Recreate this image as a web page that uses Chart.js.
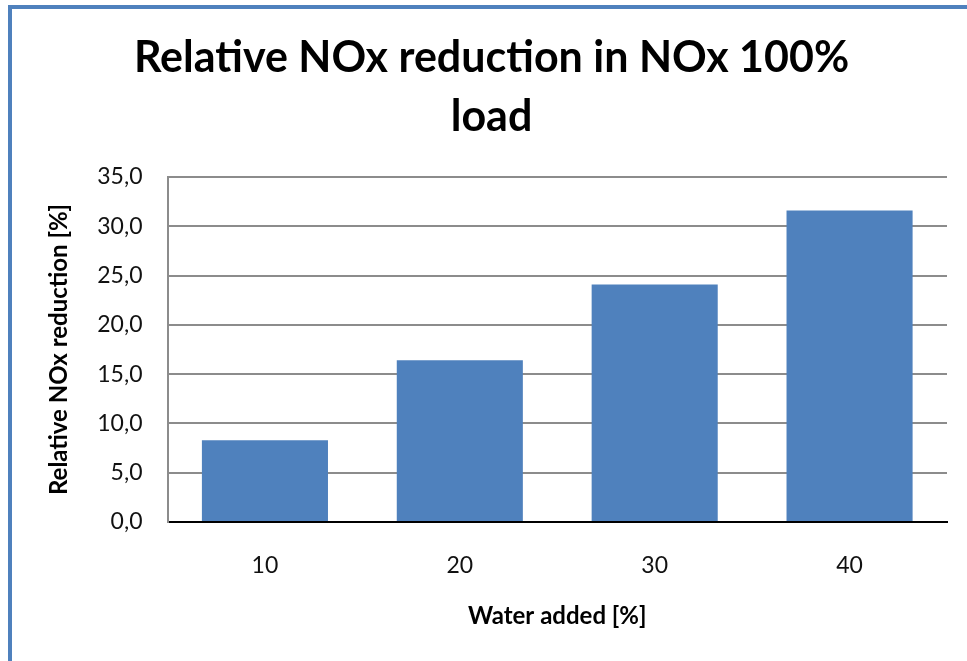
<!DOCTYPE html>
<html>
<head>
<meta charset="utf-8">
<script src="https://cdn.jsdelivr.net/npm/chart.js@4"></script>
<style>
  html, body { margin: 0; padding: 0; background: #fff; }
  #wrap { position: relative; width: 967px; height: 661px; overflow: hidden; }
  #frame {
    position: absolute; left: 8px; top: 5px; width: 1000px; height: 700px;
    border-left: 4px solid #4f81bd; border-top: 4px solid #4f81bd;
  }
  #chart { position: absolute; left: 0; top: 0; }
</style>
</head>
<body>
<div id="wrap">
  <div id="frame"></div>
  <canvas id="chart" width="967" height="661"></canvas>
</div>
<script>
// Water added (%) on the x axis
const categories = ['10', '20', '30', '40'];
// Relative NOx reduction (%) at 100% load
const reduction = [8.3, 16.4, 24.1, 31.6];
// Value axis ticks
const yTickValues = [0, 5, 10, 15, 20, 25, 30, 35];

const titleLines = ['Relative NOx reduction in NOx 100%', 'load'];
const xTitle = 'Water added [%]';
const yTitle = 'Relative NOx reduction [%]';

const FONT = 'Lato, "Open Sans", sans-serif';
const PAD_LEFT = 36;

new Chart(document.getElementById('chart'), {
  type: 'bar',
  data: {
    labels: categories,
    datasets: [{
      data: reduction,
      backgroundColor: '#4f81bd',
      borderWidth: 0,
      barPercentage: 0.647,
      categoryPercentage: 1
    }]
  },
  options: {
    responsive: false,
    animation: false,
    layout: { padding: { left: PAD_LEFT, right: 20, top: 0, bottom: 0 } },
    plugins: {
      legend: { display: false },
      tooltip: { enabled: false },
      title: {
        display: true,
        text: titleLines,
        color: '#000',
        font: { family: FONT, size: 43, weight: 'bold', lineHeight: 1.36 },
        padding: { top: 29, bottom: 31 }
      }
    },
    scales: {
      x: {
        grid: { display: false, drawTicks: false },
        border: { display: true, color: '#000', width: 2 },
        ticks: {
          color: '#111',
          font: { family: FONT, size: 23 },
          padding: 30,
          maxRotation: 0
        },
        title: {
          display: true,
          text: xTitle,
          color: '#000',
          font: { family: FONT, size: 24, weight: 'bold', lineHeight: 1.2 },
          padding: { top: 0, bottom: 30 }
        },
        afterFit(scale) { scale.height = 139; }
      },
      y: {
        min: 0,
        max: 35,
        afterBuildTicks(scale) {
          scale.ticks = yTickValues.map(v => ({ value: v }));
        },
        grid: {
          drawTicks: false,
          lineWidth: 2,
          color: ctx => (ctx.tick && ctx.tick.value === 0) ? 'rgba(0,0,0,0)' : '#8c8c8c'
        },
        border: { display: true, color: '#8c8c8c', width: 2 },
        ticks: {
          color: '#111',
          font: { family: FONT, size: 23 },
          padding: 25,
          callback: v => v.toFixed(1).replace('.', ',')
        },
        title: {
          display: true,
          text: yTitle,
          color: '#000',
          font: { family: FONT, size: 24, weight: 'bold', lineHeight: 1.2 },
          padding: { top: 9, bottom: 0 }
        },
        afterFit(scale) { scale.width = 167.5 - PAD_LEFT; }
      }
    }
  }
});
</script>
</body>
</html>
